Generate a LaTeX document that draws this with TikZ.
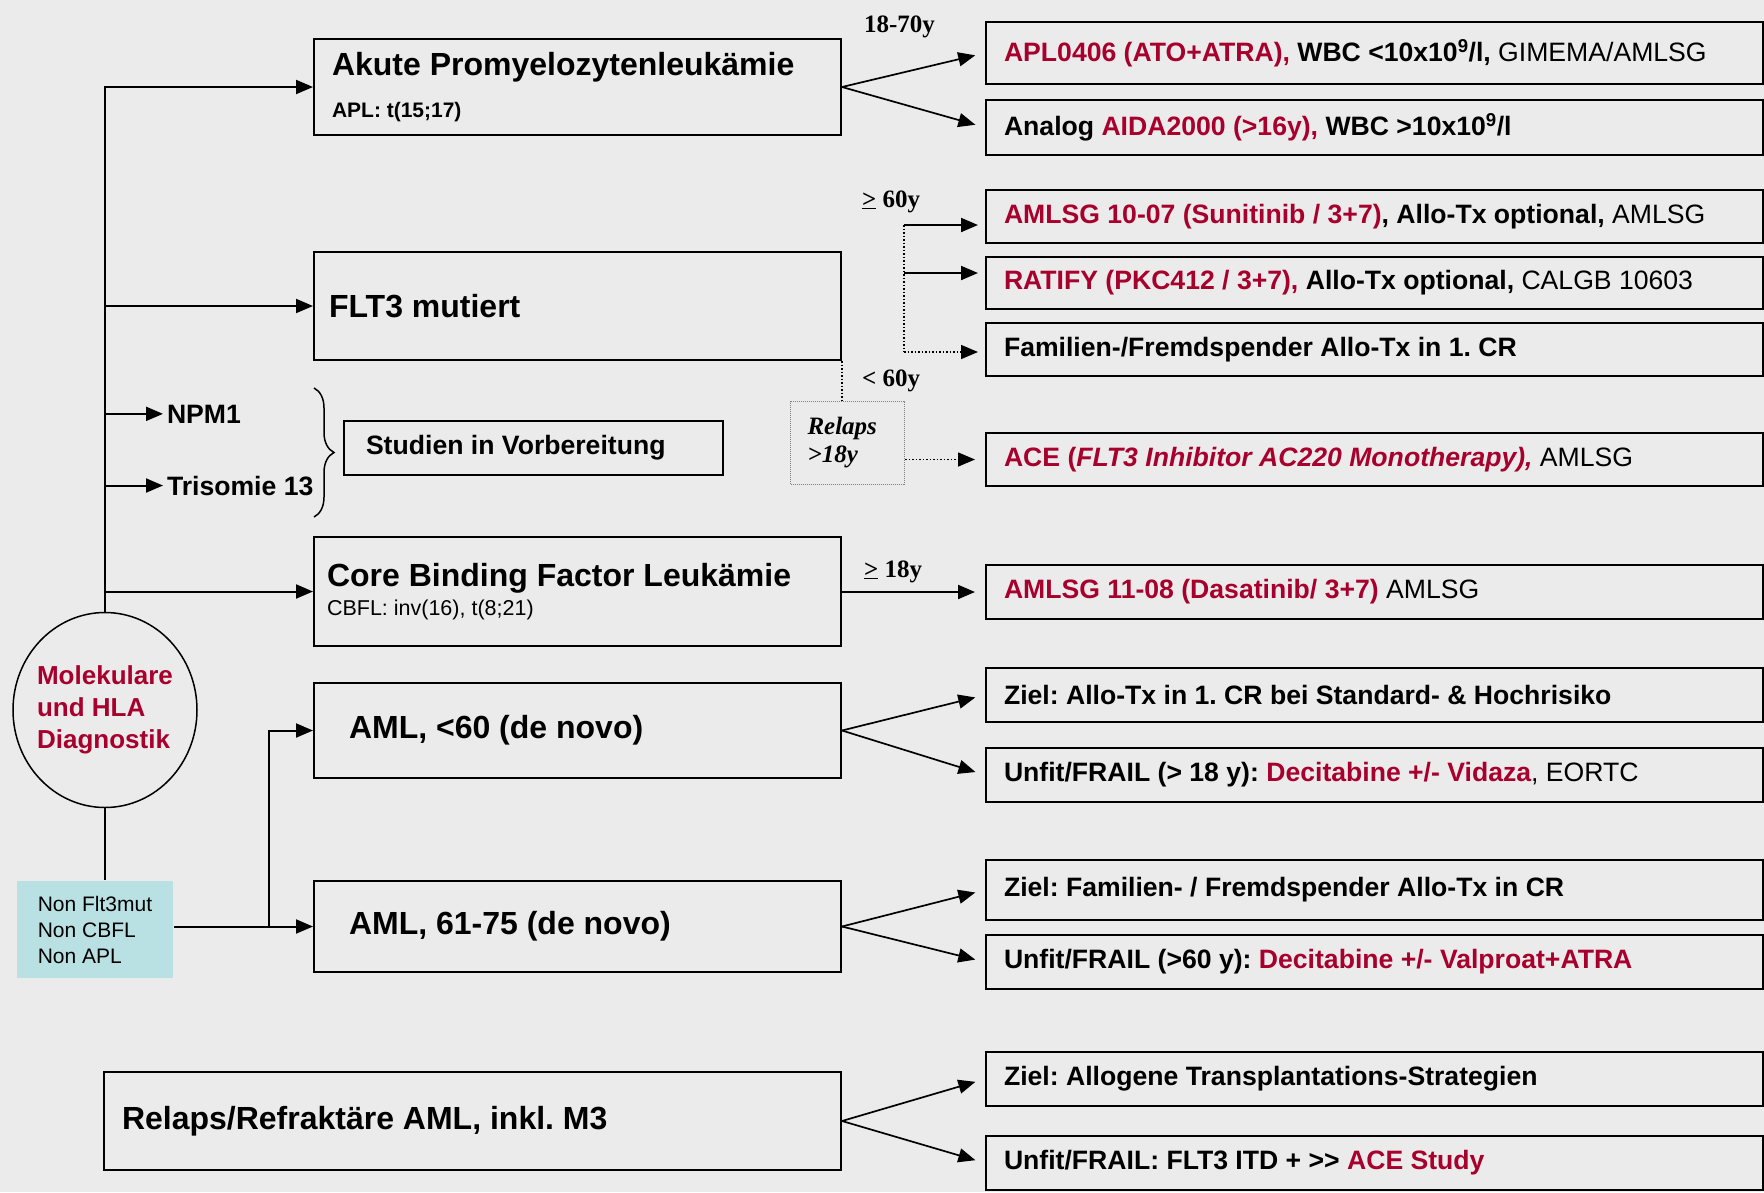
\documentclass[tikz,border=0pt]{standalone}
\usepackage{fontspec}
\setmainfont{Liberation Sans}
\newfontfamily\timesface{Liberation Serif}
\usepackage{xcolor}
\usepackage{tikz}
\usetikzlibrary{arrows.meta,positioning,calc,shapes.geometric,decorations.pathreplacing}
\definecolor{paper}{HTML}{EBEBEB}
\definecolor{amlred}{HTML}{A8002D}
\definecolor{noncyan}{HTML}{B9E1E4}
\newcommand{\headfont}{\frenchspacing\fontsize{32}{38}\selectfont\bfseries}
\newcommand{\studyfont}{\frenchspacing\fontsize{26.6}{31}\selectfont\bfseries}
\newcommand{\subfont}{\frenchspacing\fontsize{21}{24}\selectfont}
\newcommand{\agestyle}{\frenchspacing\timesface\fontsize{25}{28}\selectfont\bfseries}
\newcommand{\hot}[1]{\textcolor{amlred}{#1}}
\AtBeginDocument{\frenchspacing}

\begin{document}
\begin{tikzpicture}[x=1pt, y=-1pt, line width=2pt,
    >={Triangle[length=17pt,width=14pt]},
    groupbox/.style={draw, anchor=north west, inner ysep=0pt, inner xsep=18pt,
      minimum width=527pt, text width=491pt, align=flush left, font=\headfont},
    studybox/.style={draw, anchor=north west, inner ysep=0pt, inner xsep=18pt,
      minimum width=777pt, text width=741pt, align=flush left, font=\studyfont},
    fork/.style={->, line width=1.7pt, shorten >=10pt},
    agenote/.style={anchor=base west, inner sep=0pt, font=\agestyle}]
  \fill[paper] (0,0) rectangle (1764,1192);
  \useasboundingbox (0,0) rectangle (1764,1192);

  \node[groupbox, minimum height=96pt] (apl) at (313,38)
    {Akute Promyelozytenleukämie\\[4pt]{\subfont\bfseries APL: t(15;17)}};
  \node[groupbox, minimum height=108pt, inner xsep=15pt, text width=497pt] (flt) at (313,251)
    {FLT3 mutiert};
  \node[groupbox, minimum height=109pt, inner xsep=13pt, text width=501pt] (cbf) at (313,536)
    {Core Binding Factor Leukämie\\[-9pt]{\subfont\fontsize{21.5}{24}\selectfont\mdseries CBFL: inv(16), t(8;21)}};
  \node[groupbox, minimum height=95pt, inner xsep=35pt, text width=457pt] (amlA) at (313,682)
    {AML, <60 (de novo)};
  \node[groupbox, minimum height=91pt, inner xsep=35pt, text width=457pt] (amlB) at (313,880)
    {AML, 61-75 (de novo)};
  \node[groupbox, minimum height=98pt, minimum width=737pt, text width=701pt] (relapse) at (103,1071)
    {Relaps/Refraktäre AML, inkl. M3};

  \node[studybox, minimum height=62pt] (apl1) at (985,21)
    {\hot{APL0406 (ATO+ATRA),} WBC <10x10\textsuperscript{9}/l, {\mdseries GIMEMA/AMLSG}};
  \node[studybox, minimum height=55pt] (apl2) at (985,99)
    {Analog \hot{AIDA2000 (>16y),} WBC >10x10\textsuperscript{9}/l};
  \node[studybox, minimum height=53pt] (flt1) at (985,189)
    {\hot{AMLSG 10-07 (Sunitinib / 3+7)}, Allo-Tx optional, {\mdseries AMLSG}};
  \node[studybox, minimum height=52pt] (flt2) at (985,256)
    {\hot{RATIFY (PKC412 / 3+7),} Allo-Tx optional, {\mdseries CALGB 10603}};
  \node[studybox, minimum height=53pt] (flt3) at (985,322)
    {Familien-/Fremdspender Allo-Tx in 1. CR};
  \node[studybox, minimum height=53pt] (ace) at (985,432)
    {\hot{ACE (\textit{FLT3 Inhibitor AC220 Monotherapy),}} {\mdseries AMLSG}};
  \node[studybox, minimum height=54pt] (cbf1) at (985,564)
    {\hot{AMLSG 11-08 (Dasatinib/ 3+7)} {\mdseries AMLSG}};
  \node[studybox, minimum height=54pt] (aml1) at (985,667)
    {Ziel: Allo-Tx in 1. CR bei Standard- \& Hochrisiko};
  \node[studybox, minimum height=54pt] (aml2) at (985,747)
    {Unfit/FRAIL (> 18 y): \hot{Decitabine +/- Vidaza}{\mdseries, EORTC}};
  \node[studybox, minimum height=60pt] (aml3) at (985,859)
    {Ziel: Familien- / Fremdspender Allo-Tx in CR};
  \node[studybox, minimum height=54pt] (aml4) at (985,934)
    {Unfit/FRAIL (>60 y): \hot{Decitabine +/- Valproat+ATRA}};
  \node[studybox, minimum height=54pt] (rel1) at (985,1051)
    {Ziel: Allogene Transplantations-Strategien};
  \node[studybox, minimum height=54pt] (rel2) at (985,1135)
    {Unfit/FRAIL: FLT3 ITD + >{}> \hot{ACE Study}};

  \node[ellipse, draw, line width=1.5pt, minimum width=184pt, minimum height=195pt] (diag) at (105,710) {};
  \node[align=left, font=\fontsize{26}{32}\selectfont\bfseries, text=amlred] (diagtext) at (diag) {Molekulare\\und HLA\\Diagnostik};
  \node[fill=noncyan, anchor=north west, minimum width=156pt, minimum height=97pt, inner sep=0pt,
        align=left, font=\fontsize{21}{26}\selectfont] (non) at (16,880) {Non Flt3mut\\Non CBFL\\Non APL};

  \node[anchor=base west, inner xsep=3pt, font=\studyfont] (npm) at (163,423) {NPM1};
  \node[anchor=base west, inner xsep=3pt, font=\studyfont] (tri) at (163,495) {Trisomie 13};
  \node[draw, anchor=north west, minimum width=379pt, minimum height=54pt, inner ysep=0pt, inner xsep=22pt,
        text width=335pt, align=flush left, font=\studyfont] (prep) at (343,420) {Studien in Vorbereitung};
  \draw[line width=1.5pt, decorate, decoration={brace, amplitude=20pt}] (314,388) -- (314,517);

  \node[draw=gray, densely dotted, line width=1pt, anchor=north west, minimum width=114pt, minimum height=83pt,
        inner xsep=17pt, text width=80pt, align=flush left, font=\agestyle\itshape] (relflt) at (790,401) {Relaps\\>18y};

  \node[agenote] (agea) at (863,32) {18-70y};
  \node[agenote] (ageb) at (861,207) {\underline{>} 60y};
  \node[agenote] (agec) at (861,386) {< 60y};
  \node[agenote] (aged) at (863,577) {\underline{>} 18y};

  \draw[->] (diag.north) |- (apl.west);
  \draw[->] (diag.north |- flt.west) -- (flt.west);
  \draw[->] (diag.north |- npm.west) -- (npm.west);
  \draw[->] (diag.north |- tri.west) -- (tri.west);
  \draw[->] (diag.north |- cbf.west) -- (cbf.west);
  \draw (diag.south) -- (diag.south |- non.north);
  \draw[->] (non.east |- amlB.west) -- (amlB.west);
  \draw[->] ($(non.east |- amlB.west)+(95,0)$) |- (amlA.west);

  \foreach \src/\dst in {apl/apl1, apl/apl2, amlA/aml1, amlA/aml2, amlB/aml3, amlB/aml4, relapse/rel1, relapse/rel2}
    \draw[fork] (\src.east) -- (\dst.west);

  \coordinate (old) at (904,225);
  \coordinate (mid) at (904,273);
  \coordinate (young) at (904,352);
  \draw[dotted, line width=1.5pt] (old) -- (young);
  \draw[->, shorten >=7pt] (old) -- (old -| flt1.west);
  \draw[->, shorten >=7pt] (mid) -- (mid -| flt2.west);
  \draw[->, dotted, line width=1.5pt, shorten >=7pt] (young) -- (young -| flt3.west);
  \draw[dotted, line width=1.5pt] (flt.south east) -- (flt.south east |- relflt.north);
  \draw[->, dotted, line width=1.5pt, shorten >=10pt] (relflt.east |- ace.west) -- (ace.west);
  \draw[->, shorten >=10pt] (cbf.east |- cbf1.west) -- (cbf1.west);
\end{tikzpicture}
\end{document}
